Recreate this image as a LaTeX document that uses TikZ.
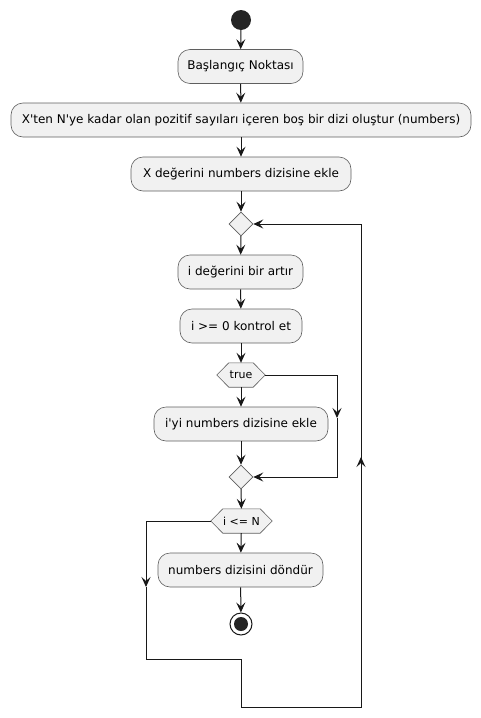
\documentclass[tikz,border=0pt]{standalone}
\usepackage{fontspec}
\setmainfont{DejaVu Sans}
\newcommand\myapos{\XeTeXglyph\XeTeXcharglyph"27\relax}
\usetikzlibrary{arrows.meta,shapes.geometric}
\definecolor{boxfill}{HTML}{F1F1F1}
\definecolor{boxline}{HTML}{5F5F5F}
\definecolor{ink}{HTML}{181818}
\tikzset{
  act/.style={draw=boxline, fill=boxfill, line width=0.6pt, rounded corners=12pt,
    minimum height=34pt, inner sep=0pt, font=\fontsize{12}{14}\selectfont},
  merge/.style={draw=boxline, fill=boxfill, line width=0.6pt, diamond, inner sep=0pt,
    minimum width=24pt, minimum height=24pt},
  hexlabel/.style={inner sep=0pt, minimum height=24pt, font=\fontsize{11}{13}\selectfont},
  hexshape/.style={draw=boxline, fill=boxfill, line width=0.6pt},
  conn/.style={draw=ink, line width=1pt},
  arr/.style={conn, -{Stealth[length=10pt,width=9pt,inset=4pt]}},
}
\begin{document}
\begin{tikzpicture}[x=1pt,y=-1pt]
\useasboundingbox (0,0) rectangle (481,718);
% start
\node[circle, fill=ink!95, minimum size=20pt, inner sep=0pt] (start) at (241,20) {};
\node[act, minimum width=125pt] (b1) at (240.5,66.5) {Başlangıç Noktası};
\node[act, minimum width=460pt] (b2) at (241,120) {X\myapos ten N\myapos ye kadar olan pozitif sayıları içeren boş bir dizi oluştur (numbers)};
\node[act, minimum width=220pt] (b3) at (241,174) {X değerini numbers dizisine ekle};
\node[merge] (d1) at (241,224) {};
\node[act, minimum width=125pt] (b4) at (240.5,272) {i değerini bir artır};
\node[act, minimum width=122pt] (b5) at (241,326) {i >= 0 kontrol et};
% hexagon true
\node[hexlabel, minimum width=48pt] (h1) at (241,375) {};
\filldraw[hexshape] (h1.west) -- ([xshift=12pt]h1.north west) -- ([xshift=-12pt]h1.north east) -- (h1.east) -- ([xshift=-12pt]h1.south east) -- ([xshift=12pt]h1.south west) -- cycle;
\node[hexlabel] at (h1) {true};
\node[act, minimum width=174pt] (b6) at (241,424) {i\myapos yi numbers dizisine ekle};
\node[merge] (d2) at (241,477) {};
% hexagon i <= N
\node[hexlabel, minimum width=61pt] (h2) at (241.5,521) {};
\filldraw[hexshape] (h2.west) -- ([xshift=12pt]h2.north west) -- ([xshift=-12pt]h2.north east) -- (h2.east) -- ([xshift=-12pt]h2.south east) -- ([xshift=12pt]h2.south west) -- cycle;
\node[hexlabel] at (h2) {i <= N};
\node[act, minimum width=165pt] (b7) at (240.5,570) {numbers dizisini döndür};
% end
\node[circle, draw=ink, fill=white, line width=1pt, minimum size=22pt, inner sep=0pt] (end) at (241,624) {};
\node[circle, fill=ink!95, minimum size=14pt, inner sep=0pt] at (end) {};

% coordinates
\coordinate (m1) at (337,418);
\coordinate (m2) at (146,587);
\coordinate (l1) at (146,659);
\coordinate (l2) at (241,659);
\coordinate (l3) at (241,707);
\coordinate (l4) at (361,707);
\coordinate (m3) at (361,457);

% connectors
\draw[arr] (start) -- (b1);
\draw[arr] (b1) -- (b2);
\draw[arr] (b2) -- (b3);
\draw[arr] (b3) -- (d1);
\draw[arr] (d1) -- (b4);
\draw[arr] (b4) -- (b5);
\draw[arr] (b5) -- (h1);
\draw[arr] (h1) -- (b6);
\draw[arr] (b6) -- (d2);
\draw[arr] (h1.east) -| (m1);
\draw[arr] (m1) |- (d2.east);
\draw[arr] (d2) -- (h2);
\draw[arr] (h2) -- (b7);
\draw[arr] (b7) -- (end);
\draw[arr] (h2.west) -| (m2);
\draw[conn] (m2) -- (l1) -- (l2) -- (l3) -- (l4) -- (m3);
\draw[arr] (l4) -- (m3);
\draw[arr] (m3) |- (d1.east);
\end{tikzpicture}
\end{document}
